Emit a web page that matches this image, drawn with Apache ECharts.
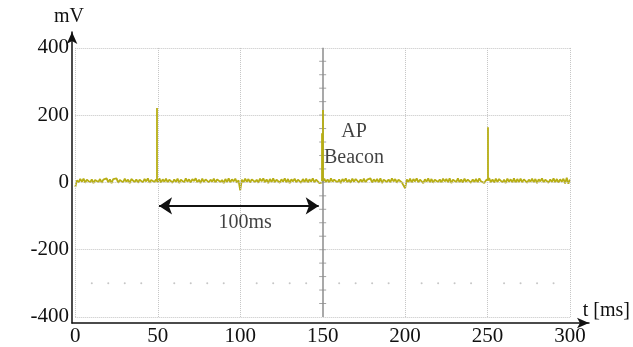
<!DOCTYPE html>
<html>
<head>
<meta charset="utf-8">
<style>
  html, body { margin: 0; padding: 0; background: #fff; }
  #chart { width: 633px; height: 347px; }
</style>
<script src="https://cdn.jsdelivr.net/npm/echarts@6/dist/echarts.min.js"></script>
</head>
<body>
<div id="chart"></div>
<script>
// tick labels
const xTicks = [0, 50, 100, 150, 200, 250, 300];
const yTicks = [-400, -200, 0, 200, 400];

// signal sampled every 1 ms from 0 to 300 ms (mV)
const sampleStep = 1;
const noise = [
  -14, 6, 0, 10, 2, 11, -1, 8, 12, 0,
  9, -2, 7, 11, 1, 10, -1, 8, 3, 12,
  0, 9, -2, 10, 5, 12, -1, 7, 10, 0,
  11, 2, 8, -2, 10, 12, 1, 9, -1, 8,
  11, 0, 10, 3, 12, -1, 7, 10, 1, 9,
  0, 12, -1, 9, 2, 11, 0, 8, 12, -1,
  9, 1, 11, -2, 8, 10, 0, 12, 2, 9,
  -1, 10, 4, 12, 0, 8, -2, 11, 1, 9,
  12, 0, 8, 2, 11, -1, 9, 12, 1, 7,
  -2, 10, 1, 12, 0, 9, 3, 11, -1, 6,
  -24, 8, 0, 11, 2, 10, -1, 9, 12, 1,
  8, -1, 11, 3, 12, 0, 9, -2, 10, 1,
  12, 0, 8, 11, -1, 9, 2, 12, 0, 10,
  -2, 9, 3, 11, 0, 8, 12, -1, 10, 1,
  11, -1, 9, 2, 12, 0, 8, 10, -2, 3,
  0, 11, 1, 9, -1, 12, 2, 8, 11, 0,
  9, -2, 10, 3, 12, 0, 8, -1, 11, 2,
  10, 12, -1, 9, 1, 11, 0, 8, 3, 12,
  -1, 9, 2, 10, 0, 12, -2, 8, 11, 1,
  9, 0, 12, 3, 10, -1, 8, 11, 0, 4,
  -18, 9, 1, 11, -1, 10, 3, 12, 0, 8,
  11, -2, 9, 2, 12, 0, 10, -1, 8, 12,
  1, 9, -1, 11, 3, 10, 0, 12, -2, 8,
  10, 1, 12, 0, 9, -1, 11, 2, 8, 12,
  -1, 9, 1, 10, 0, 12, 3, 8, -2, 6,
  2, 12, 0, 9, -1, 11, 1, 10, 12, 0,
  8, -2, 11, 2, 9, 0, 12, -1, 10, 1,
  11, 0, 9, 12, -1, 8, 2, 11, 0, 10,
  -2, 9, 3, 12, 0, 8, 11, -1, 9, 1,
  12, 0, 10, -1, 9, 2, 11, -3, 14, -4,
  8
];

// beacon spikes
const spikeTimes = [49.6, 149.6, 150, 250.2];
const spikePeaks = [221, 146, 215, 164];

// decorations of the scope screen
const centerTickValues = [-360, -320, -280, -240, -200, -160, -120, -80, -40, 0,
  40, 80, 120, 160, 200, 240, 280, 320, 360];
const dottedLevel = -300;
const dottedTimes = [10, 20, 30, 40, 60, 70, 80, 90, 110, 120, 130, 140, 160, 170,
  180, 190, 210, 220, 230, 240, 260, 270, 280, 290];

// annotations
const arrowFrom = [50.8, -70];
const arrowTo = [147.6, -70];
const notes = [
  { text: '100ms', at: [103, -119] },
  { text: 'AP\nBeacon', at: [169, 111] }
];

const traceColor = '#b7ae14';
const serif = 'Liberation Serif';

const chart = echarts.init(document.getElementById('chart'));

const signal = noise.map((v, i) => [i * sampleStep, v]);

const gridLines = [];
xTicks.forEach((t) => {
  if (t === 150) return;
  gridLines.push([{ coord: [t, -400] }, { coord: [t, 400] }]);
});
yTicks.forEach((v) => {
  gridLines.push([{ coord: [0, v] }, { coord: [300, v] }]);
});
gridLines.push([
  { coord: [150, -400], lineStyle: { color: '#8c8c8c', type: 'solid', width: 1.5 } },
  { coord: [150, 400] }
]);

const option = {
  animation: false,
  grid: { left: 72, right: 41, top: 32, bottom: 23 },
  xAxis: {
    type: 'value',
    min: -2,
    max: 311.5,
    name: 't [ms]',
    nameLocation: 'end',
    nameGap: 41,
    nameTextStyle: {
      fontFamily: serif, fontSize: 20, color: '#111',
      align: 'right', verticalAlign: 'bottom', padding: [0, 0, 2, 0]
    },
    axisLine: {
      onZero: false,
      symbol: ['none', 'arrow'],
      symbolSize: [8, 12],
      lineStyle: { color: '#111', width: 1.5 }
    },
    axisTick: { show: false },
    splitLine: { show: false },
    axisLabel: {
      customValues: xTicks,
      fontFamily: serif, fontSize: 21, color: '#111', margin: 3
    }
  },
  yAxis: {
    type: 'value',
    min: -418,
    max: 447,
    name: 'mV',
    nameLocation: 'end',
    nameGap: 5,
    nameTextStyle: {
      fontFamily: serif, fontSize: 20, color: '#111', padding: [0, 6, 0, 0]
    },
    axisLine: {
      onZero: false,
      symbol: ['none', 'arrow'],
      symbolSize: [8, 12],
      lineStyle: { color: '#111', width: 1.5 }
    },
    axisTick: { show: false },
    splitLine: { show: false },
    axisLabel: {
      customValues: yTicks,
      fontFamily: serif, fontSize: 21, color: '#111', margin: 3
    }
  },
  series: [
    {
      name: 'screen',
      type: 'scatter',
      silent: true,
      z: 1,
      symbol: 'rect',
      symbolSize: [7, 1],
      itemStyle: { color: '#8c8c8c' },
      data: centerTickValues.map((v) => [150, v]),
      markLine: {
        silent: true,
        symbol: ['none', 'none'],
        label: { show: false },
        lineStyle: { color: '#c4c4c4', type: 'dotted', width: 1 },
        data: gridLines
      }
    },
    {
      name: 'level',
      type: 'scatter',
      silent: true,
      z: 1,
      symbol: 'circle',
      symbolSize: 2,
      itemStyle: { color: '#b8b8b8' },
      data: dottedTimes.map((t) => [t, dottedLevel])
    },
    {
      name: 'signal',
      type: 'line',
      z: 3,
      symbol: 'none',
      lineStyle: { color: traceColor, width: 1.8 },
      data: signal,
      markLine: {
        silent: true,
        symbol: ['none', 'none'],
        label: { show: false },
        lineStyle: { color: traceColor, type: 'solid', width: 1.8 },
        data: spikeTimes.map((t, i) => [{ coord: [t, 4] }, { coord: [t, spikePeaks[i]] }])
      }
    },
    {
      name: 'arrow',
      type: 'line',
      z: 4,
      silent: true,
      data: [],
      markLine: {
        silent: true,
        symbol: ['arrow', 'arrow'],
        symbolSize: [13, 13],
        label: { show: false },
        lineStyle: { color: '#111', type: 'solid', width: 2 },
        data: [[{ coord: arrowFrom }, { coord: arrowTo }]]
      }
    },
    {
      name: 'notes',
      type: 'scatter',
      z: 5,
      silent: true,
      symbolSize: 0,
      data: notes.map((n) => ({ value: n.at, name: n.text })),
      label: {
        show: true,
        position: 'inside',
        formatter: (p) => p.name,
        fontFamily: serif,
        fontSize: 20,
        lineHeight: 26,
        color: '#111'
      }
    }
  ]
};

chart.setOption(option);
</script>
</body>
</html>
